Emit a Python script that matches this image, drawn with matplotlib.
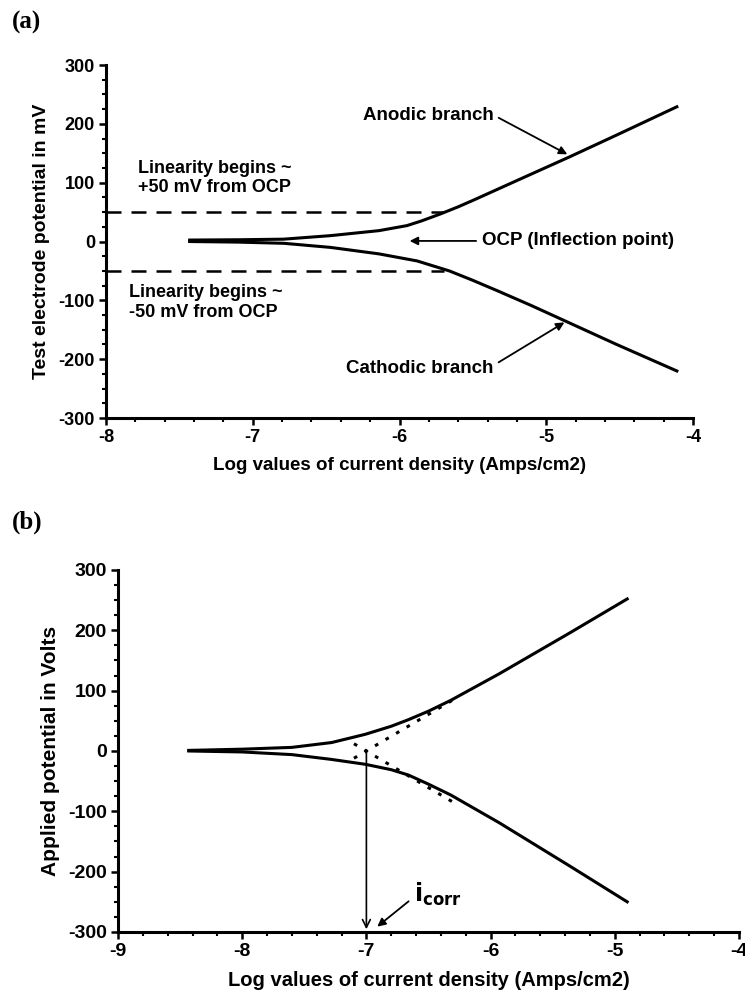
import matplotlib
matplotlib.use("Agg")
import matplotlib.pyplot as plt
from matplotlib.ticker import MultipleLocator

plt.rcParams['font.family'] = ['Liberation Sans', 'DejaVu Sans']
plt.rcParams['font.weight'] = 'bold'
plt.rcParams['axes.unicode_minus'] = False

# ---- panel (a) data ----
a_anodic_x = [-7.43, -7.1, -6.79, -6.47, -6.14, -5.95, -5.85, -5.72, -5.6, -5.49, -5.33, -5.17, -4.84, -4.52, -4.11]
a_anodic_y = [2.5, 3, 4, 10, 18.5, 27, 35, 47, 59, 71, 89, 107, 144, 181, 229]
a_cath_x = [-7.43, -7.1, -6.79, -6.47, -6.14, -5.88, -5.66, -5.5, -5.33, -5.1, -4.88, -4.52, -4.11]
a_cath_y = [0, -1, -3, -10, -21, -33, -50, -66, -84, -109, -134, -175, -220]
a_lin_x = [-8, -5.7]
a_lin_up = [50, 50]
a_lin_down = [-50, -50]

# ---- panel (b) data ----
b_anodic_x = [-8.43, -8.0, -7.6, -7.28, -7.01, -6.8, -6.66, -6.5, -6.32, -5.93, -5.36, -4.90]
b_anodic_y = [1, 3, 6, 14, 27.6, 41, 52, 66, 84, 128, 196, 252]
b_cath_x = [-8.43, -8.0, -7.6, -7.28, -7.01, -6.8, -6.66, -6.5, -6.32, -5.93, -5.36, -4.90]
b_cath_y = [0, -1.6, -6, -14, -22, -31, -40, -55, -73, -119, -191, -250]
b_tafel_an_x = [-7.1, -6.3]
b_tafel_an_y = [-12, 85]
b_tafel_ca_x = [-7.1, -6.3]
b_tafel_ca_y = [12, -85]
icorr_x = -7.0


def style_axes(ax, xmin, xmax, fs):
    ax.set_xlim(xmin, xmax)
    ax.set_ylim(-300, 300)
    ax.set_xticks(range(xmin, xmax + 1))
    ax.set_yticks(range(-300, 301, 100))
    ax.xaxis.set_minor_locator(MultipleLocator(0.2))
    ax.yaxis.set_minor_locator(MultipleLocator(25))
    for s in ['top', 'right']:
        ax.spines[s].set_visible(False)
    for s in ['left', 'bottom']:
        ax.spines[s].set_linewidth(2.2)
    ax.tick_params(which='major', direction='out', length=5, width=1.8, labelsize=fs, pad=3)
    ax.tick_params(which='minor', direction='out', length=3, width=1.5)
    for lab in ax.get_xticklabels() + ax.get_yticklabels():
        lab.set_fontweight('bold')


fig = plt.figure(figsize=(7.45, 9.97), dpi=100)
arrow = dict(arrowstyle='-|>', color='black', lw=1.3, mutation_scale=12)

# (a)
ax1 = fig.add_axes([0.1423, 0.5807, 0.7879, 0.3541])
ax1.plot(a_anodic_x, a_anodic_y, color='black', lw=2.2)
ax1.plot(a_cath_x, a_cath_y, color='black', lw=2.2)
ax1.plot(a_lin_x, a_lin_up, color='black', lw=1.8, ls=(0, (6, 4)))
ax1.plot(a_lin_x, a_lin_down, color='black', lw=1.8, ls=(0, (6, 4)))
style_axes(ax1, -8, -4, 13)
ax1.set_ylabel('Test electrode potential in mV', fontsize=14, fontweight='bold', labelpad=6)
ax1.set_xlabel('Log values of current density (Amps/cm2)', fontsize=13.5, fontweight='bold', labelpad=8)
ax1.text(-7.78, 108, 'Linearity begins ~\n+50 mV from OCP', fontsize=13, fontweight='bold', va='center', linespacing=1.2)
ax1.text(-7.84, -104, 'Linearity begins ~\n-50 mV from OCP', fontsize=13, fontweight='bold', va='center', linespacing=1.2)
ax1.annotate('Anodic branch', xy=(-4.84, 146), xytext=(-5.36, 215), fontsize=13.5, fontweight='bold',
             ha='right', va='center', arrowprops=dict(arrow, relpos=(1, 0.5)))
ax1.annotate('Cathodic branch', xy=(-4.86, -135), xytext=(-5.36, -215), fontsize=13.5, fontweight='bold',
             ha='right', va='center', arrowprops=dict(arrow, relpos=(1, 0.65)))
ax1.annotate('OCP (Inflection point)', xy=(-5.95, 1), xytext=(-5.44, 1), fontsize=13.5, fontweight='bold',
             ha='left', va='center', arrowprops=dict(arrow, relpos=(0, 0.5)))

# (b)
ax2 = fig.add_axes([0.1584, 0.0652, 0.8335, 0.3631])
ax2.plot(b_anodic_x, b_anodic_y, color='black', lw=2.2)
ax2.plot(b_cath_x, b_cath_y, color='black', lw=2.2)
ax2.plot(b_tafel_an_x, b_tafel_an_y, color='black', lw=2.2, ls=(0, (1.2, 2.8)))
ax2.plot(b_tafel_ca_x, b_tafel_ca_y, color='black', lw=2.2, ls=(0, (1.2, 2.8)))
ax2.annotate('', xy=(icorr_x, -300), xytext=(icorr_x, 3),
             arrowprops=dict(arrowstyle='->', color='black', lw=1.2, mutation_scale=14))
ax2.annotate(r'$\mathbf{i_{corr}}$', xy=(-6.93, -294), xytext=(-6.62, -238), fontsize=17,
             ha='left', va='center', arrowprops=dict(arrow, relpos=(0, 0.4)))
style_axes(ax2, -9, -4, 14)
ax2.set_ylabel('Applied potential in Volts', fontsize=15, fontweight='bold', labelpad=6)
ax2.set_xlabel('Log values of current density (Amps/cm2)', fontsize=14.5, fontweight='bold', labelpad=8)

fig.text(0.016, 0.989, '(a)', fontsize=18, fontweight='bold', family='Liberation Serif', va='top')
fig.text(0.016, 0.488, '(b)', fontsize=18, fontweight='bold', family='Liberation Serif', va='top')

fig.savefig('out.png', dpi=100)
